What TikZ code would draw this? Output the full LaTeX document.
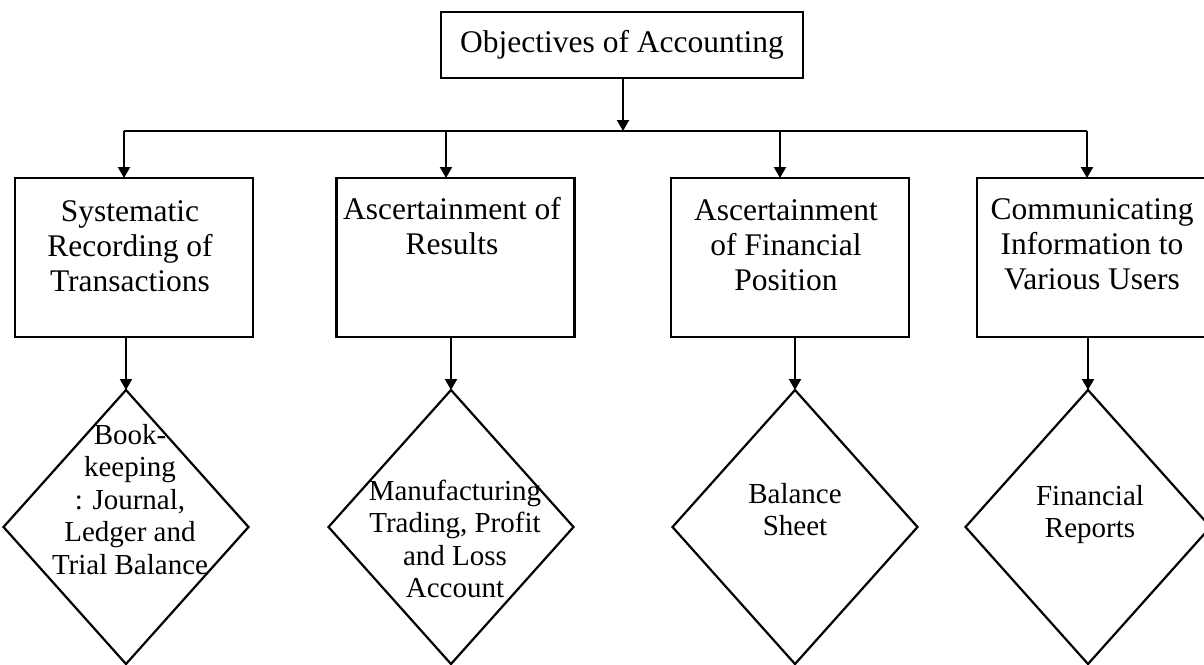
\documentclass[tikz,border=0pt]{standalone}
\usepackage{fontspec}
\setmainfont{Liberation Serif}
\usetikzlibrary{arrows.meta,shapes.geometric}
\newcommand{\mltext}[1]{\begin{tabular}[t]{@{}c@{}}#1\end{tabular}}
\begin{document}
\begin{tikzpicture}[x=1pt,y=-1pt,
  every node/.style={inner sep=0pt, outer sep=0pt},
  conn/.style={line width=2.2pt},
  arr/.style={conn,-{Triangle[length=11pt,width=12pt]}},
  objbox/.style={draw, line width=2.2pt, minimum width=238pt, minimum height=159pt},
  topbox/.style={draw, line width=2.2pt, minimum width=362pt, minimum height=66pt},
  dia/.style={draw, diamond, line width=2.2pt, minimum width=245pt, minimum height=274pt},
  boxtext/.style={font=\fontsize{31.5}{35}\selectfont, anchor=base},
  diatext/.style={font=\fontsize{29}{32.5}\selectfont, anchor=base}
]
\useasboundingbox (0,0) rectangle (1204,664);
\clip (0,0) rectangle (1204,664);
\fill[white] (0,0) rectangle (1204,664);

% top
\node[topbox] (top) at (622,45) {};
\node[boxtext] (toptext) at (622,52) {Objectives of Accounting};

% boxes
\node[objbox] (b1) at (134,257.5) {};
\node[objbox] (b2) at (455.5,257.5) {};
\node[objbox] (b3) at (790,257.5) {};
\node[objbox] (b4) at (1096,257.5) {};

\node[boxtext] (t1) at (130,221) {\mltext{Systematic\\Recording of\\Transactions}};
\node[boxtext] (t2) at (452,219) {\mltext{Ascertainment of\\Results}};
\node[boxtext] (t3) at (786,220) {\mltext{Ascertainment\\of Financial\\Position}};
\node[boxtext] (t4) at (1092,219) {\mltext{Communicating\\Information to\\Various Users}};

% diamonds
\node[dia] (d1) at (126,527) {};
\node[dia] (d2) at (451,527) {};
\node[dia] (d3) at (795,527) {};
\node[dia] (d4) at (1088,527) {};

\node[diatext] (dt1) at (130,444) {\mltext{Book-\\keeping\\: Journal,\\Ledger and\\Trial Balance}};
\node[diatext] (dt2) at (455,500) {\mltext{Manufacturing\\Trading, Profit\\and Loss\\Account}};
\node[diatext] (dt3) at (795,503) {\mltext{Balance\\Sheet}};
\node[diatext] (dt4) at (1090,505) {\mltext{Financial\\Reports}};

% connectors
\coordinate (bus) at (623,131);
\coordinate (j1) at (124,131);
\coordinate (j2) at (446,131);
\coordinate (j3) at (780,131);
\coordinate (j4) at (1087,131);
\draw[arr] (top.south -| bus) -- (bus);
\draw[conn] (j1) -- (j4);
\draw[arr] (j1) -- (j1 |- b1.north);
\draw[arr] (j2) -- (j2 |- b2.north);
\draw[arr] (j3) -- (j3 |- b3.north);
\draw[arr] (j4) -- (j4 |- b4.north);

\draw[arr] (d1.north |- b1.south) -- (d1.north);
\draw[arr] (d2.north |- b2.south) -- (d2.north);
\draw[arr] (d3.north |- b3.south) -- (d3.north);
\draw[arr] (d4.north |- b4.south) -- (d4.north);
\end{tikzpicture}
\end{document}
